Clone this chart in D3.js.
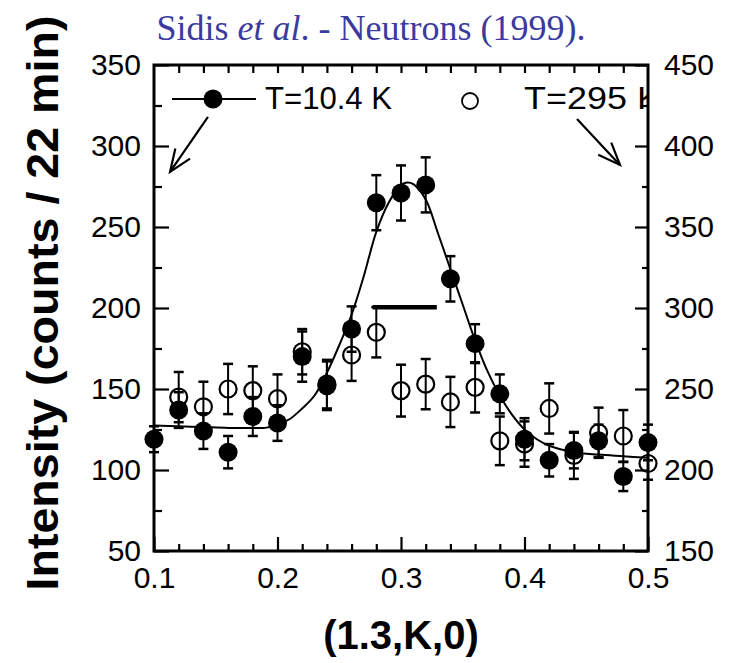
<!DOCTYPE html>
<html>
<head>
<meta charset="utf-8">
<script src="https://cdn.jsdelivr.net/npm/d3@7"></script>
<style>
  html, body { margin: 0; padding: 0; background: #fff; }
  svg { display: block; }
</style>
</head>
<body>
<div id="chart"></div>
<script>
// ---- data ----
const kValues = [0.10, 0.12, 0.14, 0.16, 0.18, 0.20, 0.22, 0.24, 0.26, 0.28, 0.30, 0.32, 0.34, 0.36, 0.38, 0.40, 0.42, 0.44, 0.46, 0.48, 0.50];
const lowT = [119, 137, 124, 111, 133, 129, 170, 152, 187, 265, 271, 276, 218, 178, 147, 119, 106, 112, 118, 96, 117];
const lowTErr = [8, 11, 11, 10, 12, 11, 15.5, 15, 14, 17, 17, 17, 14, 12, 12, 13, 10, 11, 10, 9, 11];

const kRoom = [0.12, 0.14, 0.16, 0.18, 0.20, 0.22, 0.24, 0.26, 0.28, 0.30, 0.32, 0.34, 0.36, 0.38, 0.40, 0.42, 0.44, 0.46, 0.48, 0.50];
const roomT = [245, 239, 250, 249, 244, 273, 253, 271, 285, 249, 253, 242, 251, 218, 216, 238, 209, 223, 221, 204];
const roomTErr = [15.5, 15.5, 15.5, 15, 15, 14, 15, 16, 15.5, 16, 15.5, 15.5, 15.5, 15, 14, 15.5, 14.5, 15.5, 16, 10];

const fitK = [0.10, 0.12, 0.14, 0.16, 0.18, 0.19, 0.20, 0.21, 0.22, 0.23, 0.24, 0.25, 0.26, 0.27, 0.28, 0.29, 0.30, 0.305, 0.31, 0.32, 0.33, 0.34, 0.35, 0.36, 0.37, 0.38, 0.39, 0.40, 0.41, 0.42, 0.44, 0.46, 0.48, 0.50];
const fitI = [127.5, 127, 126.5, 126, 126, 126, 128, 131.5, 138, 146, 160, 177, 196, 220, 247, 265, 276, 277.5, 276.5, 267, 246, 224, 202, 180, 161, 146, 134, 125, 119, 115, 111, 109.5, 108.5, 107.5];

const resolutionK = [0.277, 0.329];
const resolutionI = 200.5;

const leftTicks = [50, 100, 150, 200, 250, 300, 350];
const rightTicks = [150, 200, 250, 300, 350, 400, 450];
const xTicks = [0.1, 0.2, 0.3, 0.4, 0.5];
const xTickLabels = ["0.1", "0.2", "0.3", "0.4", "0.5"];

const legendLabels = ["T=10.4  K", "T=295  K"];
const titleParts = [["Sidis ", "normal"], ["et al", "italic"], [". - Neutrons (1999).", "normal"]];
const yTitle = "Intensity (counts / 22 min)";
const xTitle = "(1.3,K,0)";

// arrows (data coordinates, left axis units)
const arrows = [
  { from: [0.1437, 318], to: [0.113, 284] },
  { from: [0.4425, 316.7], to: [0.4773, 288.3] }
];

// ---- drawing ----
const W = 740, H = 663;
const L = 154, R = 648, T = 65, B = 551;
const svg = d3.select("#chart").append("svg").attr("width", W).attr("height", H);

const x = d3.scaleLinear().domain([0.1, 0.5]).range([L, R]);
const yL = d3.scaleLinear().domain([50, 350]).range([B, T]);
const yR = d3.scaleLinear().domain([150, 450]).range([B, T]);

const tickFont = "'Liberation Sans', Arial, sans-serif";

function styleAxis(g) {
  g.select(".domain").remove();
  g.selectAll("line").attr("stroke", "#000").attr("stroke-width", 2.2);
  g.selectAll("text").attr("font-family", tickFont).attr("font-size", 30).attr("fill", "#000");
}

// left axis
svg.append("g").attr("transform", `translate(${L},0)`)
  .call(d3.axisLeft(yL).tickValues(d3.range(75, 350, 50)).tickSizeInner(-8).tickSizeOuter(0).tickFormat(""))
  .call(styleAxis);
svg.append("g").attr("transform", `translate(${L},0)`)
  .call(d3.axisLeft(yL).tickValues(leftTicks).tickSizeInner(-15).tickSizeOuter(0).tickPadding(13).tickFormat(d3.format("d")))
  .call(styleAxis);

// right axis
svg.append("g").attr("transform", `translate(${R},0)`)
  .call(d3.axisRight(yR).tickValues(d3.range(175, 450, 50)).tickSizeInner(-6).tickSizeOuter(0).tickFormat(""))
  .call(styleAxis);
svg.append("g").attr("transform", `translate(${R},0)`)
  .call(d3.axisRight(yR).tickValues(rightTicks).tickSizeInner(-13).tickSizeOuter(0).tickPadding(16).tickFormat(d3.format("d")))
  .call(styleAxis);

// bottom axis
svg.append("g").attr("transform", `translate(0,${B})`)
  .call(d3.axisBottom(x).tickValues(d3.range(0.12, 0.5, 0.02).filter(v => Math.abs(v * 10 - Math.round(v * 10)) > 1e-6)).tickSizeInner(-7).tickSizeOuter(0).tickFormat(""))
  .call(styleAxis);
svg.append("g").attr("transform", `translate(0,${B})`)
  .call(d3.axisBottom(x).tickValues(xTicks).tickSizeInner(-14).tickSizeOuter(0).tickPadding(16).tickFormat((d, i) => xTickLabels[i]))
  .call(styleAxis);

// top axis
svg.append("g").attr("transform", `translate(0,${T})`)
  .call(d3.axisTop(x).tickValues(d3.range(0.12, 0.5, 0.02)).tickSizeInner(-8).tickSizeOuter(0).tickFormat(""))
  .call(styleAxis);

// clip for legend text
svg.append("clipPath").attr("id", "plotclip")
  .append("rect").attr("x", L).attr("y", T).attr("width", R - L).attr("height", B - T);

const room = kRoom.map((k, i) => ({ k, v: roomT[i], e: roomTErr[i] }));
const lowData = kValues.map((k, i) => ({ k, v: lowT[i], e: lowTErr[i] }));

function errorBars(data, yScale, cls) {
  const g = svg.append("g").attr("class", cls).attr("stroke", "#000").attr("stroke-width", 2);
  const cap = 5;
  g.selectAll("line.v").data(data).join("line").attr("class", "v")
    .attr("x1", d => x(d.k)).attr("x2", d => x(d.k))
    .attr("y1", d => yScale(d.v + d.e)).attr("y2", d => yScale(d.v - d.e));
  g.selectAll("line.t").data(data).join("line").attr("class", "t")
    .attr("x1", d => x(d.k) - cap).attr("x2", d => x(d.k) + cap)
    .attr("y1", d => yScale(d.v + d.e)).attr("y2", d => yScale(d.v + d.e)).attr("stroke-width", 2.5);
  g.selectAll("line.b").data(data).join("line").attr("class", "b")
    .attr("x1", d => x(d.k) - cap).attr("x2", d => x(d.k) + cap)
    .attr("y1", d => yScale(d.v - d.e)).attr("y2", d => yScale(d.v - d.e)).attr("stroke-width", 2.5);
}

// room temperature data (open circles, right axis)
errorBars(room, yR, "room-err");
svg.append("g").selectAll("circle").data(room).join("circle")
  .attr("cx", d => x(d.k)).attr("cy", d => yR(d.v)).attr("r", 8.5)
  .attr("fill", "none").attr("stroke", "#000").attr("stroke-width", 2.2);

// fit curve
const fit = fitK.map((k, i) => [k, fitI[i]]);
svg.append("path").datum(fit)
  .attr("d", d3.line().x(d => x(d[0])).y(d => yL(d[1])).curve(d3.curveCatmullRom))
  .attr("fill", "none").attr("stroke", "#000").attr("stroke-width", 2);

// resolution bar
svg.append("line")
  .attr("x1", x(resolutionK[0])).attr("x2", x(resolutionK[1]))
  .attr("y1", yL(resolutionI)).attr("y2", yL(resolutionI))
  .attr("stroke", "#000").attr("stroke-width", 4.5);

// low temperature data (filled, left axis)
errorBars(lowData, yL, "low-err");
svg.append("g").selectAll("circle").data(lowData).join("circle")
  .attr("cx", d => x(d.k)).attr("cy", d => yL(d.v)).attr("r", 9.5)
  .attr("fill", "#000");

// frame
svg.append("rect").attr("x", L).attr("y", T).attr("width", R - L).attr("height", B - T)
  .attr("fill", "none").attr("stroke", "#000").attr("stroke-width", 3);

// legend
const leg = svg.append("g").attr("clip-path", "url(#plotclip)");
leg.append("line").attr("x1", 172).attr("x2", 256).attr("y1", 99).attr("y2", 99)
  .attr("stroke", "#000").attr("stroke-width", 2.2);
leg.append("circle").attr("cx", 213).attr("cy", 99).attr("r", 9.5).attr("fill", "#000");
leg.append("text").attr("x", 265).attr("y", 109).text(legendLabels[0])
  .attr("font-family", tickFont).attr("font-size", 31)
  .attr("textLength", 127).attr("lengthAdjust", "spacingAndGlyphs");
leg.append("circle").attr("cx", 470).attr("cy", 101).attr("r", 8)
  .attr("fill", "none").attr("stroke", "#000").attr("stroke-width", 1.8);
leg.append("text").attr("x", 524).attr("y", 109).text(legendLabels[1])
  .attr("font-family", tickFont).attr("font-size", 31)
  .attr("textLength", 137).attr("lengthAdjust", "spacingAndGlyphs");

// arrows
arrows.forEach(a => {
  const x1 = x(a.from[0]), y1 = yL(a.from[1]), x2 = x(a.to[0]), y2 = yL(a.to[1]);
  const ang = Math.atan2(y2 - y1, x2 - x1);
  const len = 24, spread = 0.38;
  const w1 = [x2 - len * Math.cos(ang - spread), y2 - len * Math.sin(ang - spread)];
  const w2 = [x2 - len * Math.cos(ang + spread), y2 - len * Math.sin(ang + spread)];
  svg.append("line").attr("x1", x1).attr("y1", y1).attr("x2", x2).attr("y2", y2)
    .attr("stroke", "#000").attr("stroke-width", 2.2);
  svg.append("path").attr("d", `M${w1[0]},${w1[1]}L${x2},${y2}L${w2[0]},${w2[1]}`)
    .attr("fill", "none").attr("stroke", "#000").attr("stroke-width", 2.2);
});

// title
const title = svg.append("text").attr("x", 371).attr("y", 40).attr("text-anchor", "middle")
  .attr("font-family", "'Liberation Serif', 'Times New Roman', serif").attr("font-size", 36)
  .attr("fill", "#3b3b9f");
titleParts.forEach(p => title.append("tspan").attr("font-style", p[1]).text(p[0]));

// axis titles
svg.append("text").attr("transform", `translate(58,303) rotate(-90)`)
  .attr("text-anchor", "middle").attr("font-family", tickFont).attr("font-weight", "bold")
  .attr("font-size", 44).attr("textLength", 575).attr("lengthAdjust", "spacingAndGlyphs")
  .text(yTitle);
svg.append("text").attr("x", 401).attr("y", 649).attr("text-anchor", "middle")
  .attr("font-family", tickFont).attr("font-weight", "bold").attr("font-size", 40)
  .text(xTitle);
</script>
</body>
</html>
